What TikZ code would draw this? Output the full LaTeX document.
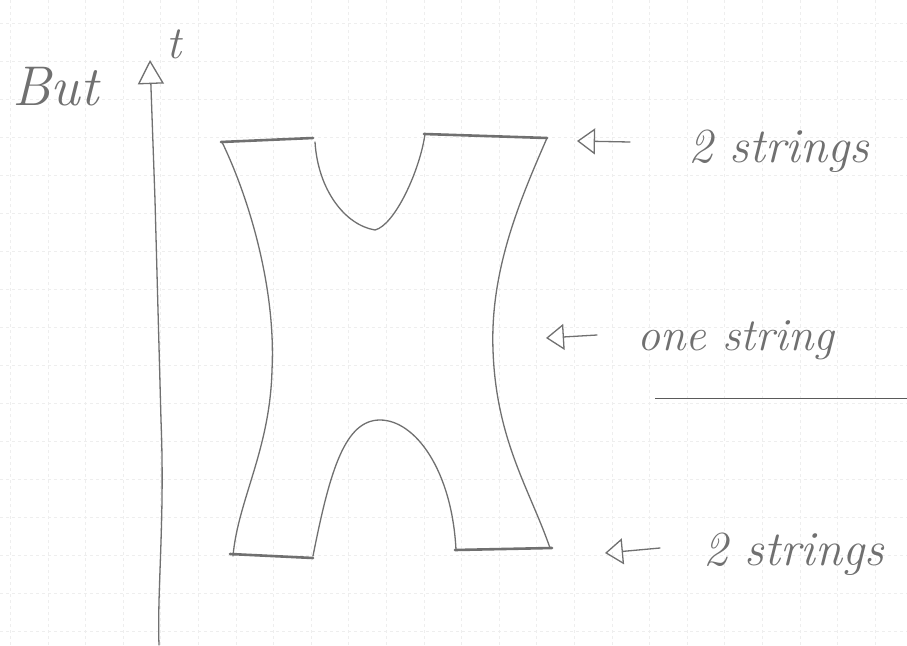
\documentclass[tikz,border=0pt]{standalone}
\usetikzlibrary{arrows.meta}
\definecolor{pencil}{RGB}{112,112,112}
\definecolor{gridc}{RGB}{238,238,238}
\begin{document}
\begin{tikzpicture}[x=1pt,y=-1pt,
  stroke/.style={draw=pencil,line width=1.3pt,line cap=round,line join=round},
  edge/.style={draw=pencil,line width=2.6pt,line cap=round},
  hand/.style={text=pencil,inner sep=0pt,font=\fontsize{46}{46}\selectfont\itshape},
  openhead/.style={-{Triangle[open,length=18pt,width=26pt,line width=1.3pt]}}]
\useasboundingbox[fill=white] (0,0) rectangle (907,645);
% faint squared paper
\foreach \gx in {10.2,47.8,...,907} {\draw[gridc,line width=0.5pt,dash pattern=on 3pt off 3pt] (\gx,0) -- (\gx,645);}
\foreach \gy in {23,61,...,645} {\draw[gridc,line width=0.5pt,dash pattern=on 3pt off 3pt] (0,\gy) -- (907,\gy);}
% texts
\node[hand,anchor=base west,font=\fontsize{56}{56}\selectfont\itshape] (but) at (12,105) {But};
\node[hand,anchor=base west] (tlab) at (166,58) {t};
\node[hand,anchor=base west,font=\fontsize{49}{49}\selectfont\itshape] (top) at (688,162) {2 strings};
\node[hand,anchor=base west] (mid) at (637,350) {one string};
\node[hand,anchor=base west,font=\fontsize{49}{49}\selectfont\itshape] (bot) at (703,565) {2 strings};
% time axis
\coordinate (axb) at (159,645);
\coordinate (axt) at (150,60);
\draw[stroke,-{Triangle[open,length=24pt,width=26pt,line width=1.3pt]}]
  (axb) .. controls (157,590) and (165,520) .. (161,420) -- (155,200) -- (axt);
% the surface
\draw[stroke] (222,142) .. controls (250,200) and (276,290) .. (272,370)
              .. controls (270,450) and (238,500) .. (233,556);
\draw[stroke] (547,138) .. controls (520,200) and (490,270) .. (493,350)
              .. controls (496,440) and (530,490) .. (550,548);
\draw[stroke] (315,142) .. controls (318,190) and (345,225) .. (375,230)
              .. controls (395,225) and (420,170) .. (425,134);
\draw[stroke] (313,556) .. controls (330,470) and (345,420) .. (380,420)
              .. controls (415,420) and (452,470) .. (456,550);
\draw[edge] (221,142) -- (313,138);
\draw[edge] (424,134) -- (547,138);
\draw[edge] (230,554) -- (313,558);
\draw[edge] (455,550) -- (552,548);
% arrows
\coordinate (a1s) at (630,142); \coordinate (a1t) at (577,141);
\coordinate (a2s) at (597,335); \coordinate (a2t) at (546,338);
\coordinate (a3s) at (660,548); \coordinate (a3t) at (605,553);
\draw[stroke,openhead] (a1s) -- (a1t);
\draw[stroke,openhead] (a2s) -- (a2t);
\draw[stroke,openhead] (a3s) -- (a3t);
% underline
\coordinate (u1) at (655,398); \coordinate (u2) at (907,398);
\draw[draw=pencil!80!black,line width=0.9pt] (u1) -- (u2);
\end{tikzpicture}
\end{document}
